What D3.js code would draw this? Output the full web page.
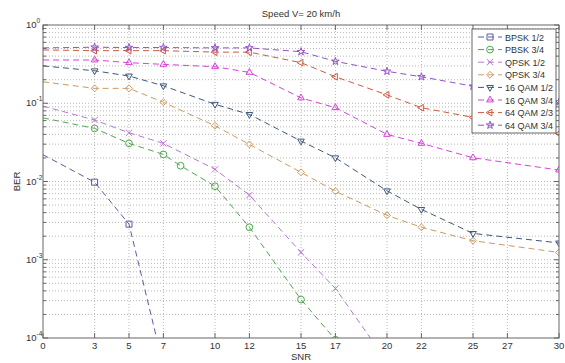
<!DOCTYPE html>
<html>
<head>
<meta charset="utf-8">
<script src="https://cdn.jsdelivr.net/npm/d3@7"></script>
<style>
body { margin: 0; background: #fff; }
text { font-family: "Liberation Sans", Arial, sans-serif; fill: #333; }
</style>
</head>
<body>
<div id="chart-container"></div>
<script>
// SNR points per series
var snrMain = [0, 3, 5, 7, 10, 12, 15, 17, 20, 22, 25, 30];
var snrBpsk = [0, 3, 5, 7];
var snrPbsk = [0, 3, 5, 7, 8, 10, 12, 15, 17];
var snrQpsk12 = [0, 3, 5, 7, 10, 12, 15, 17, 20];

// BER values
var bpsk12 = [0.022, 0.0098, 0.00285, 0.000044];
var pbsk34 = [0.065, 0.0477, 0.0307, 0.0222, 0.0159, 0.0087, 0.0026, 0.00031, 0.000095];
var qpsk12 = [0.092, 0.061, 0.042, 0.0307, 0.0143, 0.0067, 0.00124, 0.00043, 0.00005];
var qpsk34 = [0.188, 0.155, 0.155, 0.103, 0.0516, 0.0298, 0.0131, 0.0075, 0.0037, 0.0026, 0.00175, 0.00124];
var qam16_12 = [0.30, 0.26, 0.223, 0.167, 0.097, 0.072, 0.0329, 0.0201, 0.0076, 0.0044, 0.00217, 0.00164];
var qam16_34 = [0.357, 0.357, 0.33, 0.314, 0.293, 0.248, 0.117, 0.0877, 0.040, 0.0307, 0.0201, 0.014];
var qam64_23 = [0.48, 0.47, 0.47, 0.47, 0.45, 0.45, 0.33, 0.218, 0.128, 0.0877, 0.066, 0.041];
var qam64_34 = [0.51, 0.52, 0.515, 0.515, 0.51, 0.51, 0.456, 0.343, 0.256, 0.218, 0.165, 0.104];

var seriesNames = ["BPSK 1/2", "PBSK 3/4", "QPSK 1/2", "QPSK 3/4", "16 QAM 1/2", "16 QAM 3/4", "64 QAM 2/3", "64 QAM 3/4"];
var seriesColors = ["#5a5aa8", "#4fa64f", "#b877cc", "#c99a64", "#3f5878", "#d840d8", "#cc5a40", "#9550c8"];
var seriesMarkers = ["square", "circle", "times", "diamond", "down", "up", "left", "star"];
var seriesX = [snrBpsk, snrPbsk, snrQpsk12, snrMain, snrMain, snrMain, snrMain, snrMain];
var seriesY = [bpsk12, pbsk34, qpsk12, qpsk34, qam16_12, qam16_34, qam64_23, qam64_34];

var xTicks = [0, 3, 5, 7, 10, 12, 15, 17, 20, 22, 25, 27, 30];
var yTicks = [1e-4, 1e-3, 1e-2, 1e-1, 1];

var width = 565, height = 363;
var margin = {left: 43, right: 6, top: 25, bottom: 25};

var svg = d3.select("#chart-container").append("svg")
    .attr("width", width)
    .attr("height", height);

var xScale = d3.scaleLinear()
    .domain([0, 30])
    .range([margin.left, width - margin.right]);
var yScale = d3.scaleLog()
    .domain([1e-4, 1])
    .range([height - margin.bottom, margin.top]);

var x0 = xScale.range()[0], x1 = xScale.range()[1];
var y0 = yScale.range()[0], y1 = yScale.range()[1];

// minor log values
var minorY = [];
yTicks.slice(0, -1).forEach(function (t) {
    for (var m = 2; m <= 9; m++) minorY.push(t * m);
});

svg.append("defs").append("clipPath").attr("id", "plotclip")
    .append("rect")
    .attr("x", x0).attr("y", y1)
    .attr("width", x1 - x0).attr("height", y0 - y1);

// grid
var grid = svg.append("g").attr("stroke", "#b8b8b8").attr("stroke-dasharray", "1,2");
grid.selectAll(".gx").data(xTicks.slice(1, -1)).enter().append("line")
    .attr("x1", d => xScale(d)).attr("x2", d => xScale(d))
    .attr("y1", y1).attr("y2", y0);
grid.selectAll(".gy").data(yTicks.slice(1, -1).concat(minorY)).enter().append("line")
    .attr("y1", d => yScale(d)).attr("y2", d => yScale(d))
    .attr("x1", x0).attr("x2", x1);

// ticks (inside, on all four sides)
var ticks = svg.append("g").attr("stroke", "#666").attr("stroke-width", 1);
xTicks.forEach(function (t) {
    ticks.append("line").attr("x1", xScale(t)).attr("x2", xScale(t)).attr("y1", y0).attr("y2", y0 - 5);
    ticks.append("line").attr("x1", xScale(t)).attr("x2", xScale(t)).attr("y1", y1).attr("y2", y1 + 5);
});
yTicks.forEach(function (t) {
    ticks.append("line").attr("y1", yScale(t)).attr("y2", yScale(t)).attr("x1", x0).attr("x2", x0 + 5);
    ticks.append("line").attr("y1", yScale(t)).attr("y2", yScale(t)).attr("x1", x1).attr("x2", x1 - 5);
});
minorY.forEach(function (t) {
    ticks.append("line").attr("y1", yScale(t)).attr("y2", yScale(t)).attr("x1", x0).attr("x2", x0 + 3);
    ticks.append("line").attr("y1", yScale(t)).attr("y2", yScale(t)).attr("x1", x1).attr("x2", x1 - 3);
});

// tick labels
svg.selectAll(".xl").data(xTicks).enter().append("text")
    .attr("x", d => xScale(d))
    .attr("y", y0 + 11)
    .attr("text-anchor", "middle")
    .attr("font-size", 9.5)
    .text(d => d);

var yl = svg.selectAll(".yl").data(yTicks).enter().append("text")
    .attr("x", 26)
    .attr("y", d => yScale(d) + 3)
    .attr("font-size", 9.5);
yl.append("tspan").text("10");
yl.append("tspan").attr("dy", -5).attr("font-size", 6.5).text(d => Math.round(Math.log10(d)));

// series
function markerPath(kind) {
    var s;
    if (kind == "square") s = d3.symbol(d3.symbolSquare, 36);
    else if (kind == "circle") s = d3.symbol(d3.symbolCircle, 36);
    else if (kind == "times") s = d3.symbol(d3.symbolTimes, 28);
    else if (kind == "diamond") s = d3.symbol(d3.symbolDiamond2, 30);
    else if (kind == "star") s = d3.symbol(d3.symbolStar, 18);
    else s = d3.symbol(d3.symbolTriangle2, 32);
    return s();
}
function markerRotate(kind) {
    if (kind == "down") return 180;
    if (kind == "left") return -90;
    return 0;
}

var plot = svg.append("g").attr("clip-path", "url(#plotclip)");
var line = d3.line()
    .x(d => xScale(d[0]))
    .y(d => yScale(d[1]));

seriesNames.forEach(function (name, i) {
    var pts = seriesX[i].map((x, j) => [x, seriesY[i][j]]);
    plot.append("path")
        .datum(pts)
        .attr("d", line)
        .attr("fill", "none")
        .attr("stroke", seriesColors[i])
        .attr("stroke-width", 1)
        .attr("stroke-dasharray", "6,4");
});

seriesNames.forEach(function (name, i) {
    var pts = seriesX[i].map((x, j) => [x, seriesY[i][j]]).filter(d => d[0] > 0);
    svg.append("g").attr("clip-path", "url(#plotclip)")
        .selectAll("path")
        .data(pts)
        .enter().append("path")
        .attr("d", markerPath(seriesMarkers[i]))
        .attr("transform", d => "translate(" + xScale(d[0]) + "," + yScale(d[1]) + ") rotate(" + markerRotate(seriesMarkers[i]) + ")")
        .attr("fill", "none")
        .attr("stroke", seriesColors[i])
        .attr("stroke-width", 1);
});

// frame
svg.append("rect")
    .attr("x", x0).attr("y", y1)
    .attr("width", x1 - x0).attr("height", y0 - y1)
    .attr("fill", "none")
    .attr("stroke", "#666");

// title and axis labels
svg.append("text")
    .attr("x", (x0 + x1) / 2).attr("y", 17)
    .attr("text-anchor", "middle").attr("font-size", 9.5)
    .text("Speed V= 20 km/h");
svg.append("text")
    .attr("x", (x0 + x1) / 2).attr("y", 360)
    .attr("text-anchor", "middle").attr("font-size", 9.5)
    .text("SNR");
svg.append("text")
    .attr("transform", "translate(20," + ((y0 + y1) / 2) + ") rotate(-90)")
    .attr("text-anchor", "middle").attr("font-size", 9.5)
    .text("BER");

// legend
var legend = svg.append("g").attr("transform", "translate(472,29)");
legend.append("rect")
    .attr("width", 84).attr("height", 104)
    .attr("fill", "#fff").attr("stroke", "#666");
seriesNames.forEach(function (name, i) {
    var ly = 8 + i * 12.6;
    legend.append("line")
        .attr("x1", 6).attr("x2", 30).attr("y1", ly).attr("y2", ly)
        .attr("stroke", seriesColors[i]).attr("stroke-dasharray", "6,4");
    legend.append("path")
        .attr("d", markerPath(seriesMarkers[i]))
        .attr("transform", "translate(18," + ly + ") rotate(" + markerRotate(seriesMarkers[i]) + ")")
        .attr("fill", "none").attr("stroke", seriesColors[i]);
    legend.append("text")
        .attr("x", 33).attr("y", ly + 3.5)
        .attr("font-size", 9)
        .text(name);
});
</script>
</body>
</html>
